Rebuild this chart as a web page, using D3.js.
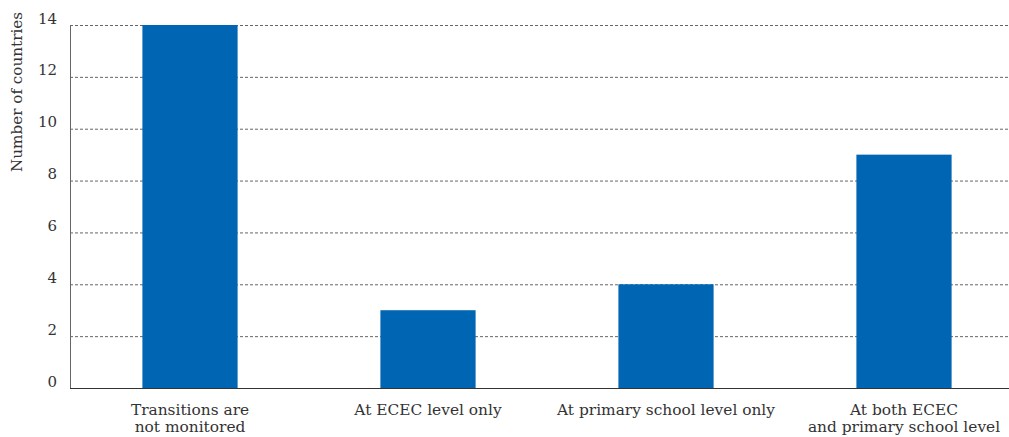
<!DOCTYPE html>
<html><head><meta charset="utf-8">
<script src="https://cdn.jsdelivr.net/npm/d3@7"></script>
<style>body{margin:0;background:#fff}svg{display:block}text{font-family:"DejaVu Serif",serif;fill:#333}</style>
</head><body><svg id="c" width="1009" height="437"></svg>
<script>
const categories = [["Transitions are","not monitored"],["At ECEC level only"],["At primary school level only"],["At both ECEC","and primary school level"]];
const values = [14, 3, 4, 9];
const yTicks = [0, 2, 4, 6, 8, 10, 12, 14];
const yTitle = "Number of countries";

const svg = d3.select("#c");
const mLeft = 70, mRight = 1009, mTop = 25, mBottom = 388;
const x = d3.scaleBand().domain(d3.range(categories.length)).range([mLeft + 1, 1023]).paddingInner(0.6).paddingOuter(0.3);
const y = d3.scaleLinear().domain([0, 14]).range([mBottom, mTop]);

// gridlines
svg.append("g").selectAll("line").data(yTicks.filter(d => d > 0)).join("line")
  .attr("x1", mLeft).attr("x2", mRight).attr("y1", d => y(d) + 0.5).attr("y2", d => y(d) + 0.5)
  .attr("stroke", "#666").attr("stroke-width", 1).attr("stroke-dasharray", "3,2");

// bars
svg.append("g").selectAll("rect").data(values).join("rect")
  .attr("x", (d, i) => x(i)).attr("width", x.bandwidth())
  .attr("y", d => y(d)).attr("height", d => y(0) - y(d))
  .attr("fill", "#0066B3");

// axes lines
svg.append("line").attr("x1", mLeft + 0.5).attr("x2", mLeft + 0.5).attr("y1", mTop).attr("y2", mBottom)
  .attr("stroke", "#666").attr("stroke-width", 1);
svg.append("line").attr("x1", mLeft).attr("x2", mRight).attr("y1", mBottom + 0.5).attr("y2", mBottom + 0.5)
  .attr("stroke", "#333").attr("stroke-width", 1.2);

// y tick labels
svg.append("g").selectAll("text").data(yTicks).join("text")
  .attr("x", 57).attr("y", d => y(d)).attr("dy", "-0.1em")
  .attr("text-anchor", "end").attr("font-size", 15).text(d => d);

// y title
svg.append("text").attr("transform", "translate(22,92) rotate(-90)")
  .attr("text-anchor", "middle").attr("font-size", 15.2).text(yTitle);

// x labels
const xl = svg.append("g").selectAll("text").data(categories).join("text")
  .attr("x", (d, i) => x(i) + x.bandwidth() / 2).attr("y", 415)
  .attr("text-anchor", "middle").attr("font-size", 15.4);
xl.selectAll("tspan").data(d => d).join("tspan")
  .attr("x", function () { return d3.select(this.parentNode).attr("x"); })
  .attr("dy", (d, i) => i === 0 ? 0 : 17).text(d => d);
</script></body></html>
